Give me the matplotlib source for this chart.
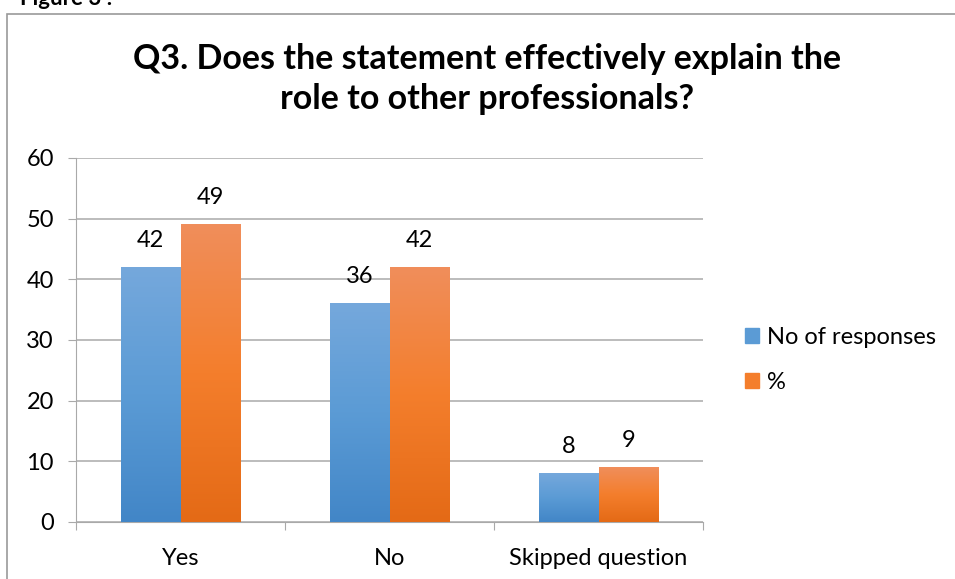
import matplotlib.pyplot as plt
import matplotlib.patches as patches
import numpy as np
from matplotlib.colors import LinearSegmentedColormap

plt.rcParams['font.family'] = ['Lato', 'DejaVu Sans']

categories = ["Yes", "No", "Skipped question"]
responses = [42, 36, 8]
percent = [49, 42, 9]
series_names = ["No of responses", "%"]

blue_cmap = LinearSegmentedColormap.from_list("b", ["#4286C7", "#5B9BD5", "#75A8DC"])
orange_cmap = LinearSegmentedColormap.from_list("o", ["#E46A16", "#F47E2C", "#F08E5B"])

fig = plt.figure(figsize=(9.55, 5.79), dpi=100)
ax = fig.add_axes([76/955, 57/579, 627/955, 364/579])

# outer frame and caption above it
fig.patches.append(patches.Rectangle((7/955, -0.05), 1.1, 1 - 14/579 + 0.05,
                                     transform=fig.transFigure, fill=False,
                                     edgecolor="#9A9A9A", linewidth=1.2))
fig.text(20/955, 1 - 9/579, "Figure 3 :", fontsize=16, fontweight="bold",
         va="bottom", ha="left")

x = np.arange(len(categories))
w = 0.287

def gradient_bar(xc, h, cmap):
    grad = np.linspace(0, 1, 256).reshape(-1, 1)
    ax.imshow(grad, cmap=cmap, origin="lower", aspect="auto",
              extent=(xc - w/2, xc + w/2, 0, h), zorder=3)

for i in range(len(categories)):
    gradient_bar(x[i] - w/2, responses[i], blue_cmap)
    gradient_bar(x[i] + w/2, percent[i], orange_cmap)
    ax.annotate(str(responses[i]), (x[i] - w/2, responses[i]), xytext=(0, 27),
                textcoords="offset pixels", ha="center", va="center", fontsize=17)
    ax.annotate(str(percent[i]), (x[i] + w/2, percent[i]), xytext=(0, 27),
                textcoords="offset pixels", ha="center", va="center", fontsize=17)

ax.set_xlim(-0.5, 2.5)
ax.set_ylim(0, 60)
ax.set_yticks(range(0, 61, 10))
ax.yaxis.grid(True, color="#A9A9A9", linewidth=1.1)
ax.set_axisbelow(True)
for s in ["top", "right"]:
    ax.spines[s].set_visible(False)
ax.spines["left"].set_color("#A9A9A9")
ax.spines["bottom"].set_color("#A9A9A9")
ax.tick_params(axis="y", length=6, color="#A9A9A9", labelsize=17, pad=10)
ax.set_xticks([-0.5, 0.5, 1.5, 2.5])
ax.set_xticklabels([])
ax.set_xticks(x, minor=True)
ax.set_xticklabels(categories, minor=True)
ax.tick_params(axis="x", which="major", length=6, color="#A9A9A9")
ax.tick_params(axis="x", which="minor", length=0, labelsize=17, pad=19)

fig.text(487/955, 1 - 79/579,
         "Q3. Does the statement effectively explain the\nrole to other professionals?",
         fontsize=24.5, fontweight="bold", ha="center", va="center",
         linespacing=1.32)

handles = [patches.Patch(color="#5B9BD5"), patches.Patch(color="#F47E2C")]
fig.legend(handles, series_names, loc="center left", bbox_to_anchor=(724/955, 1 - 360/579),
           frameon=False, fontsize=17, handlelength=0.6, handleheight=0.6,
           handletextpad=0.3, labelspacing=1.0)

fig.savefig("out.png", dpi=100)
